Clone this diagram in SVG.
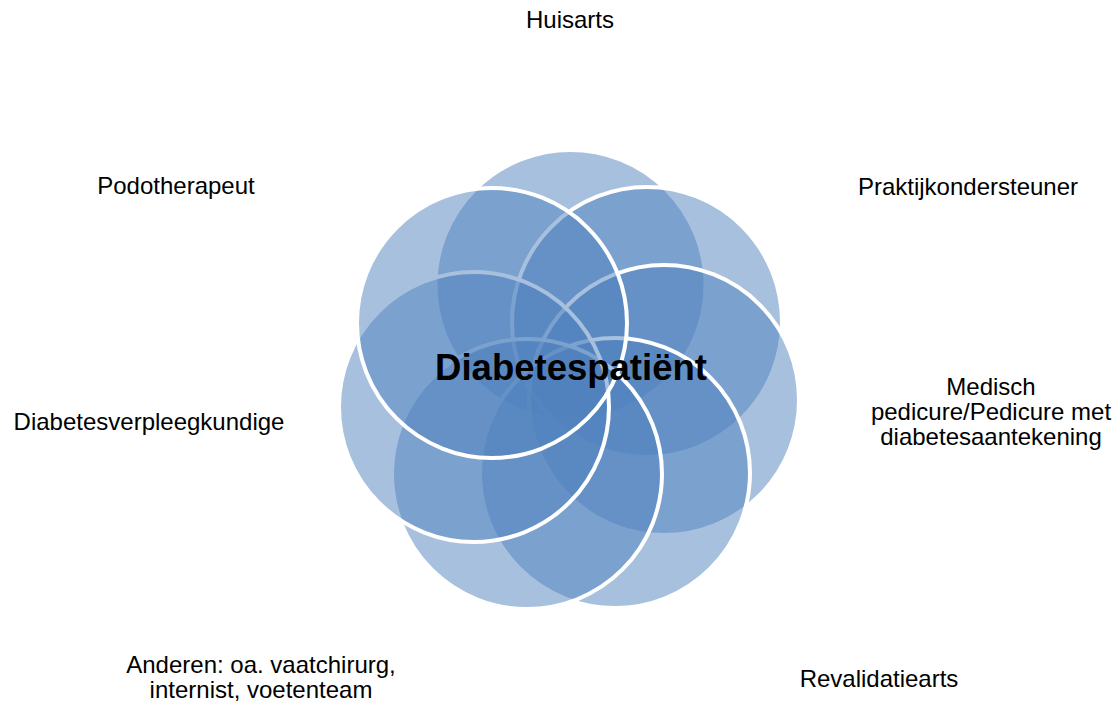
<svg xmlns="http://www.w3.org/2000/svg" width="1115" height="703" viewBox="0 0 1115 703">
<style>
.c{fill:#4F81BD;fill-opacity:0.5;stroke:#FFFFFF;stroke-width:4}
.l{font-family:"Liberation Sans",Arial,sans-serif;font-size:24px;fill:#000;text-anchor:middle}
.m{font-family:"Liberation Sans",Arial,sans-serif;font-size:36.5px;font-weight:bold;fill:#000;text-anchor:middle}
</style>
<rect width="1115" height="703" fill="#FFFFFF"/>
<g id="circles">
<circle id="n-huisarts" class="c" cx="570.5" cy="285" r="135"/>
<circle id="n-praktijk" class="c" cx="647" cy="322" r="135"/>
<circle id="n-medisch" class="c" cx="664" cy="400" r="135"/>
<circle id="n-revalidatie" class="c" cx="615" cy="473" r="135"/>
<circle id="n-anderen" class="c" cx="527" cy="474" r="135"/>
<circle id="n-verpleeg" class="c" cx="474" cy="407" r="135"/>
<circle id="n-podo" class="c" cx="492" cy="323" r="135"/>
</g>
<g id="center"><text class="m" x="571" y="380">Diabetespatiënt</text></g>
<g id="labels">
<text id="t-huisarts" class="l" x="570" y="28">Huisarts</text>
<text id="t-praktijk" class="l" x="968" y="195">Praktijkondersteuner</text>
<text id="t-medisch" class="l" x="991" y="395">Medisch<tspan x="991" y="420">pedicure/Pedicure met</tspan><tspan x="991" y="445">diabetesaantekening</tspan></text>
<text id="t-revalidatie" class="l" x="879" y="687">Revalidatiearts</text>
<text id="t-anderen" class="l" x="261" y="673">Anderen: oa. vaatchirurg,<tspan x="261" y="698">internist, voetenteam</tspan></text>
<text id="t-verpleeg" class="l" x="149" y="430">Diabetesverpleegkundige</text>
<text id="t-podo" class="l" x="176" y="194">Podotherapeut</text>
</g>
</svg>
